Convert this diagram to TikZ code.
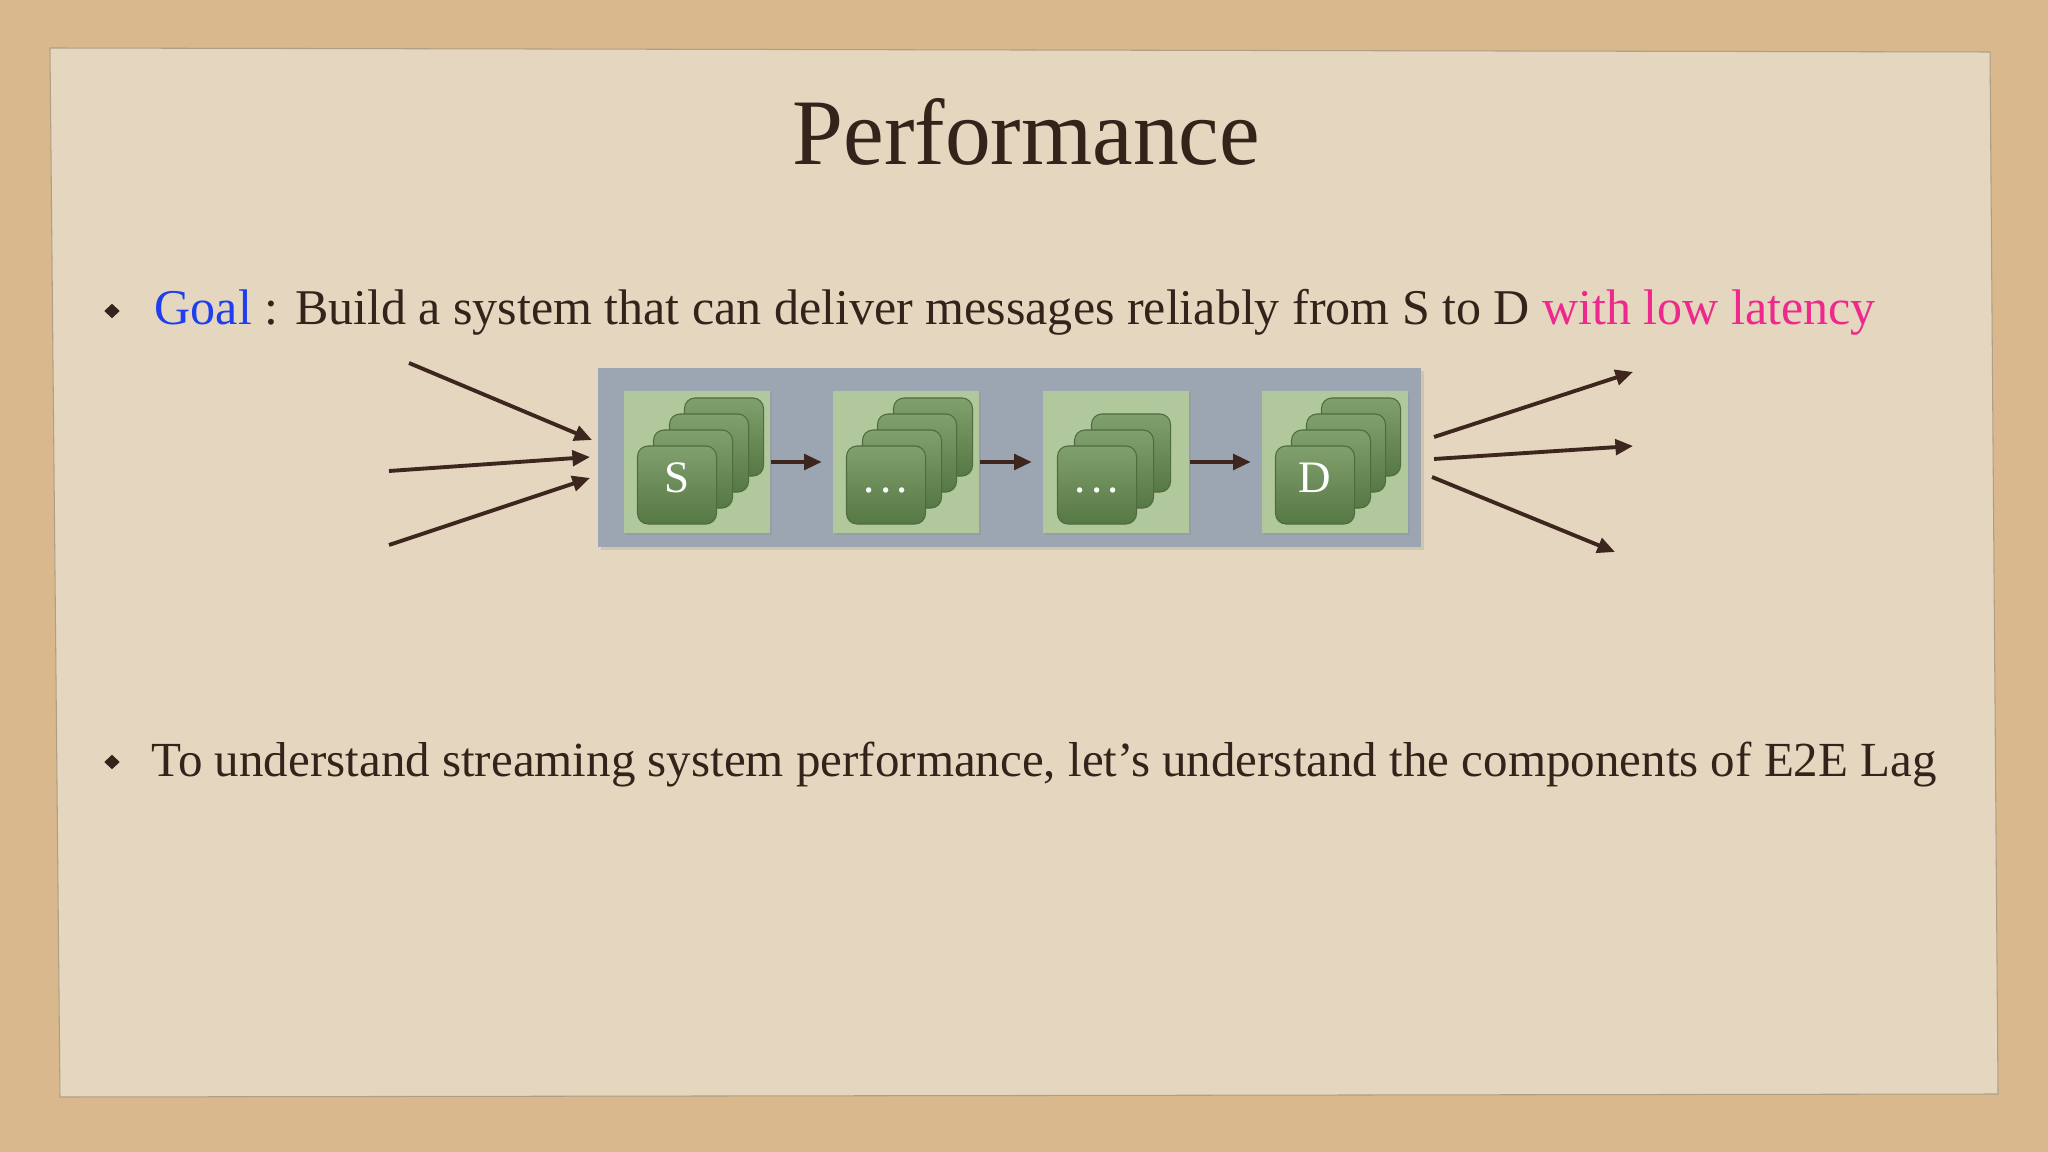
\documentclass[tikz,border=0pt]{standalone}
\usepackage{fontspec}
\setmainfont{Liberation Serif}
\usetikzlibrary{arrows.meta,shadows,shapes.geometric}
\definecolor{bgtan}{RGB}{216,184,140}
\definecolor{paperin}{RGB}{229,214,191}
\definecolor{paperout}{RGB}{218,199,168}
\definecolor{ink}{RGB}{50,35,27}
\definecolor{arrowc}{RGB}{60,38,30}
\definecolor{goalblue}{RGB}{30,62,240}
\definecolor{latpink}{RGB}{238,40,140}
\definecolor{slate}{RGB}{155,166,178}
\definecolor{leaf}{RGB}{176,200,156}
\definecolor{cardtop}{RGB}{128,160,110}
\definecolor{cardbot}{RGB}{86,120,68}
\definecolor{cardedge}{RGB}{78,108,62}
\pgfdeclareradialshading{paperglow}{\pgfpoint{0bp}{0bp}}{color(0bp)=(paperin); color(38bp)=(paperin); color(72bp)=(paperout)}
\tikzset{
  flow/.style={draw=arrowc, line width=1.1pt, -{Triangle[length=5pt,width=4.4pt]}},
  card/.style={rounded corners=3pt, minimum width=0.79cm, minimum height=0.78cm,
    top color=cardtop, bottom color=cardbot, draw=cardedge, line width=0.3pt,
    inner sep=0pt, text=white, text height=0.45em, text depth=0pt,
    font=\fontsize{12.8}{14}\selectfont},
  stagebox/.style={fill=leaf, minimum width=1.46cm, minimum height=1.42cm, inner sep=0pt,
    drop shadow={shadow xshift=0.6pt, shadow yshift=-0.6pt, opacity=0.2}},
  pipe/.style={fill=slate, minimum width=8.23cm, minimum height=1.79cm, inner sep=0pt,
    drop shadow={shadow xshift=0.8pt, shadow yshift=-0.8pt, opacity=0.2}},
  bulletmark/.style={diamond, fill=ink, inner sep=0pt, minimum width=0.16cm, minimum height=0.15cm},
  linetext/.style={anchor=base west, inner sep=0pt, text=ink},
}
\newcommand{\spaceddots}{.\hspace{0.12em}.\hspace{0.12em}.}
\begin{document}
\begin{tikzpicture}[x=0.01cm,y=-0.01cm]
\useasboundingbox (0,0) rectangle (2048,1152);
\fill[bgtan] (0,0) rectangle (2048,1152);
% paper
\shade[shading=paperglow, draw=paperout!80!black, line width=0.3pt]
  (50,48) -- (1990,52) -- (1998,1094) -- (60,1097) -- cycle;

% title
\node[linetext] (title) at (792,165) {\resizebox{4.67cm}{0.66cm}{Performance}};

% bullet 1
\node[bulletmark] (b1) at (112,311) {};
\node[linetext] (goal) at (154,325) {\resizebox{17.20cm}{!}{\textcolor{goalblue}{Goal} : Build a system that can deliver messages reliably from S to D \textcolor{latpink}{with low latency}}};

% bullet 2
\node[bulletmark] (b2) at (112,762) {};
\node[linetext] (lag) at (151,777) {\resizebox{17.84cm}{!}{To understand streaming system performance, let's understand the components of E2E Lag}};

% pipeline background
\node[pipe] (pipeline) at (1009.5,457.5) {};

% stage boxes
\node[stagebox] (st1) at (697,462) {};
\node[stagebox] (st2) at (906,462) {};
\node[stagebox] (st3) at (1116,462) {};
\node[stagebox] (st4) at (1335,462) {};

% cards stage 1
\node[card] (c1d) at (724,437) {};
\node[card] (c1c) at (709,453) {};
\node[card] (c1b) at (693,469) {};
\node[card] (c1a) at (677,485) {S};
% cards stage 2
\node[card] (c2d) at (933,437) {};
\node[card] (c2c) at (917,453) {};
\node[card] (c2b) at (902,469) {};
\node[card] (c2a) at (886,485) {\spaceddots};
% cards stage 3
\node[card] (c3c) at (1131,453) {};
\node[card] (c3b) at (1114,469) {};
\node[card] (c3a) at (1097,485) {\spaceddots};
% cards stage 4
\node[card] (c4d) at (1361,437) {};
\node[card] (c4c) at (1346,453) {};
\node[card] (c4b) at (1331,469) {};
\node[card] (c4a) at (1315,485) {D};

% arrows between stages
\draw[flow, shorten >=3pt] (st1.east) -- (st2.west);
\draw[flow, shorten >=3pt] (st2.east) -- (st3.west);
\draw[flow, shorten >=3pt] (st3.east) -- (st4.west);

% input arrows
\coordinate (in1s) at (409,363);
\coordinate (in1e) at (592,440);
\coordinate (in2s) at (389,471);
\coordinate (in2e) at (590,457);
\coordinate (in3s) at (389,545);
\coordinate (in3e) at (590,478);
\draw[flow] (in1s) -- (in1e);
\draw[flow] (in2s) -- (in2e);
\draw[flow] (in3s) -- (in3e);

% output arrows
\coordinate (out1s) at (1434,437);
\coordinate (out1e) at (1633,372);
\coordinate (out2s) at (1434,459);
\coordinate (out2e) at (1633,446);
\coordinate (out3s) at (1432,477);
\coordinate (out3e) at (1615,552);
\draw[flow] (out1s) -- (out1e);
\draw[flow] (out2s) -- (out2e);
\draw[flow] (out3s) -- (out3e);
\end{tikzpicture}
\end{document}
